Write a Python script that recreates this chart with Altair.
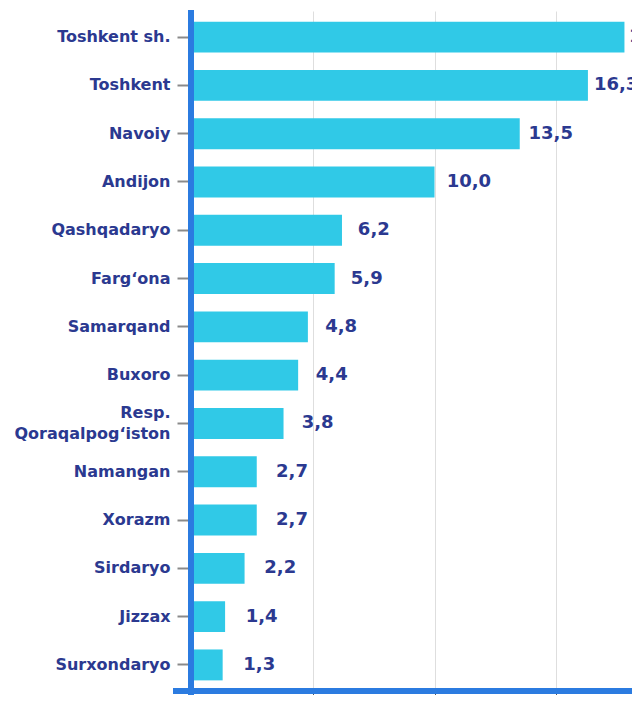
import altair as alt
import pandas as pd

regions = ["Toshkent sh.", "Toshkent", "Navoiy", "Andijon", "Qashqadaryo",
           "Farg‘ona", "Samarqand", "Buxoro", "Resp. Qoraqalpog‘iston",
           "Namangan", "Xorazm", "Sirdaryo", "Jizzax", "Surxondaryo"]
values = [17.8, 16.3, 13.5, 10.0, 6.2, 5.9, 4.8, 4.4, 3.8, 2.7, 2.7, 2.2, 1.4, 1.3]
x_ticks = [0, 5, 10, 15]

df = pd.DataFrame({"region": regions, "value": values})

W, H = 441, 680
NAVY = "#2b3990"
BLUE = "#2b7be0"
CYAN = "#30c9e7"
FONT = "DejaVu Sans"
TWO_LINE = "Resp. Qoraqalpog‘iston"

label_expr = (f"datum.value == '{TWO_LINE}' ? "
              "['Resp.', 'Qoraqalpog‘iston'] : datum.value")

y_enc = alt.Y(
    "region:N", sort=regions,
    scale=alt.Scale(paddingInner=0.36, paddingOuter=0.22),
    axis=alt.Axis(title=None, domain=False, ticks=True, tickSize=14,
                  tickColor="#8a8a8a", tickWidth=2, labelFont=FONT,
                  labelFontWeight="bold", labelFontSize=16, labelColor=NAVY,
                  labelPadding=7, labelLineHeight=21, labelExpr=label_expr,
                  labelOffset={"condition": {"test": f"datum.value == '{TWO_LINE}'",
                                             "value": -10},
                               "value": 0},
                  labelLimit=220),
)
x_scale = alt.Scale(domain=[0, 18.11], nice=False, zero=True)
x_axis = alt.Axis(title=None, values=x_ticks, labels=False, domain=False,
                  ticks=True, tickSize=11, tickColor="#555555", tickWidth=1,
                  grid=True, gridColor="#dedede", gridWidth=1)

bars = alt.Chart(df).mark_bar(color=CYAN).encode(
    x=alt.X("value:Q", scale=x_scale, axis=x_axis),
    y=y_enc,
)

texts = alt.Chart(df).transform_calculate(
    lx="datum.value * 0.96 + 0.9",
    lab="replace(format(datum.value, '.1f'), '.', ',')",
).mark_text(align="left", baseline="middle", font=FONT, fontWeight="bold",
            fontSize=18, color=NAVY, clip=True).encode(
    x=alt.X("lx:Q"),
    y=alt.Y("region:N", sort=regions),
    text="lab:N",
)

one = pd.DataFrame({"z": [0]})
yline = alt.Chart(one).mark_rule(color=BLUE, strokeWidth=6).encode(
    x=alt.X("z:Q"), y=alt.value(-1), y2=alt.value(H + 10)
)
xline = alt.Chart(one).mark_rule(color=BLUE, strokeWidth=6).encode(
    x=alt.value(-18), x2=alt.value(W), y=alt.value(H)
)

chart = alt.layer(bars, texts, xline, yline).properties(
    width=W, height=H,
    padding={"left": 183, "top": 3, "right": 0, "bottom": 4},
    autosize="none",
).configure_view(stroke=None)

chart.save("out.html", embed_options={"renderer": "svg", "actions": False})
